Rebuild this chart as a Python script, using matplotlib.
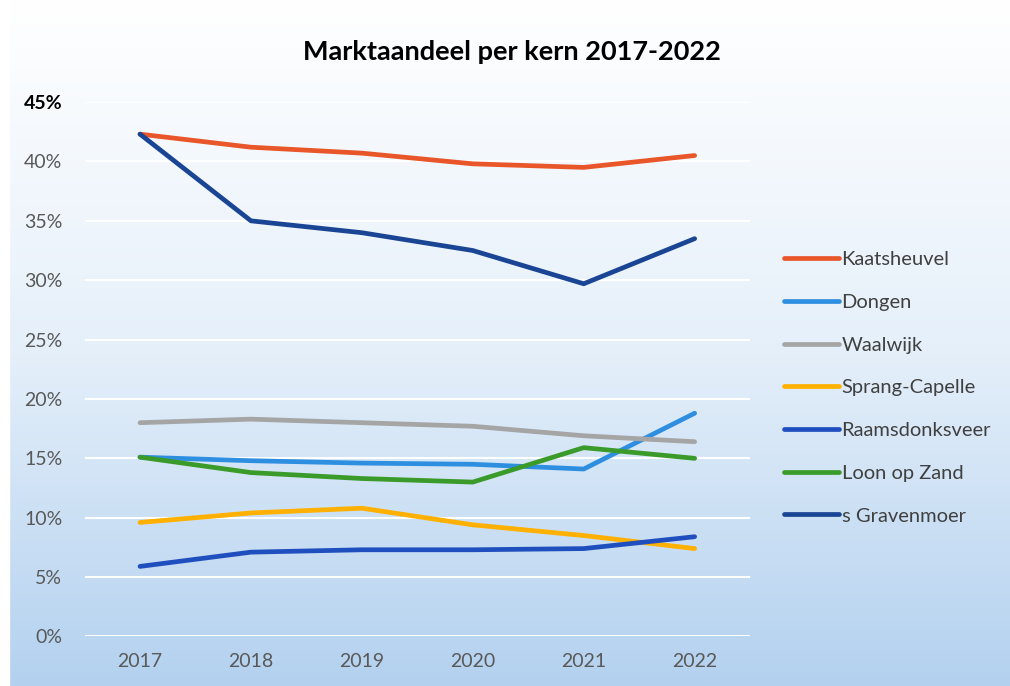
import matplotlib
matplotlib.use("Agg")
import matplotlib.pyplot as plt
import numpy as np
from matplotlib.colors import LinearSegmentedColormap

plt.rcParams['font.family'] = ['Lato', 'DejaVu Sans']

jaren = [2017, 2018, 2019, 2020, 2021, 2022]
kernen = ['Kaatsheuvel', 'Dongen', 'Waalwijk', 'Sprang-Capelle',
          'Raamsdonksveer', 'Loon op Zand', 's Gravenmoer']
kaatsheuvel = [42.3, 41.2, 40.7, 39.8, 39.5, 40.5]
dongen = [15.1, 14.8, 14.6, 14.5, 14.1, 18.8]
waalwijk = [18.0, 18.3, 18.0, 17.7, 16.9, 16.4]
sprang_capelle = [9.6, 10.4, 10.8, 9.4, 8.5, 7.4]
raamsdonksveer = [5.9, 7.1, 7.3, 7.3, 7.4, 8.4]
loon_op_zand = [15.1, 13.8, 13.3, 13.0, 15.9, 15.0]
s_gravenmoer = [42.3, 35.0, 34.0, 32.5, 29.7, 33.5]
kleuren = ['#E8562A', '#2E8FE0', '#A5A5A5', '#FFB000',
           '#1F4FBF', '#3A9A2A', '#1A4594']

reeksen = [kaatsheuvel, dongen, waalwijk, sprang_capelle,
           raamsdonksveer, loon_op_zand, s_gravenmoer]

fig = plt.figure(figsize=(10.1, 6.86), dpi=100)

# achtergrond met verloop van wit naar lichtblauw
bg = fig.add_axes([0, 0, 1, 1], zorder=-1)
cmap = LinearSegmentedColormap.from_list('bg', ['#FFFFFF', '#E6F0FA', '#B3D1EF'])
grad = np.linspace(0, 1, 256).reshape(-1, 1)
bg.imshow(grad, aspect='auto', cmap=cmap, extent=[0, 1, 0, 1])
bg.axvspan(0, 0.009, color='white')
bg.set_axis_off()

ax = fig.add_axes([0.0837, 0.0722, 0.659, 0.7790])
ax.patch.set_alpha(0)

for naam, waarden, kleur in zip(kernen, reeksen, kleuren):
    ax.plot(jaren, waarden, color=kleur, linewidth=3.4, label=naam,
            solid_capstyle='round')

ax.set_xlim(2016.5, 2022.5)
ax.set_ylim(0, 45)
ax.set_yticks(range(0, 46, 5))
ax.set_yticklabels([f'{v}%' for v in range(0, 46, 5)])
ax.set_xticks(jaren)
ax.grid(axis='y', color='white', linewidth=1.5)
ax.set_axisbelow(True)
for s in ax.spines.values():
    s.set_visible(False)
ax.tick_params(length=0, labelsize=14, labelcolor='#595959', pad=12)
ax.tick_params(axis='y', pad=16)
ax.get_yticklabels()[-1].set_color('black')
ax.get_yticklabels()[-1].set_fontweight('bold')

fig.text(0.507, 0.924, 'Marktaandeel per kern 2017-2022', ha='center',
         va='center', fontsize=19.5, fontweight='bold', color='black')

fig.legend(loc='upper left', bbox_to_anchor=(0.758, 0.66), frameon=False,
           fontsize=14.5, labelspacing=1.27, handlelength=2.75,
           handletextpad=0.12, labelcolor='#404040')

plt.savefig('out.png', dpi=100)
